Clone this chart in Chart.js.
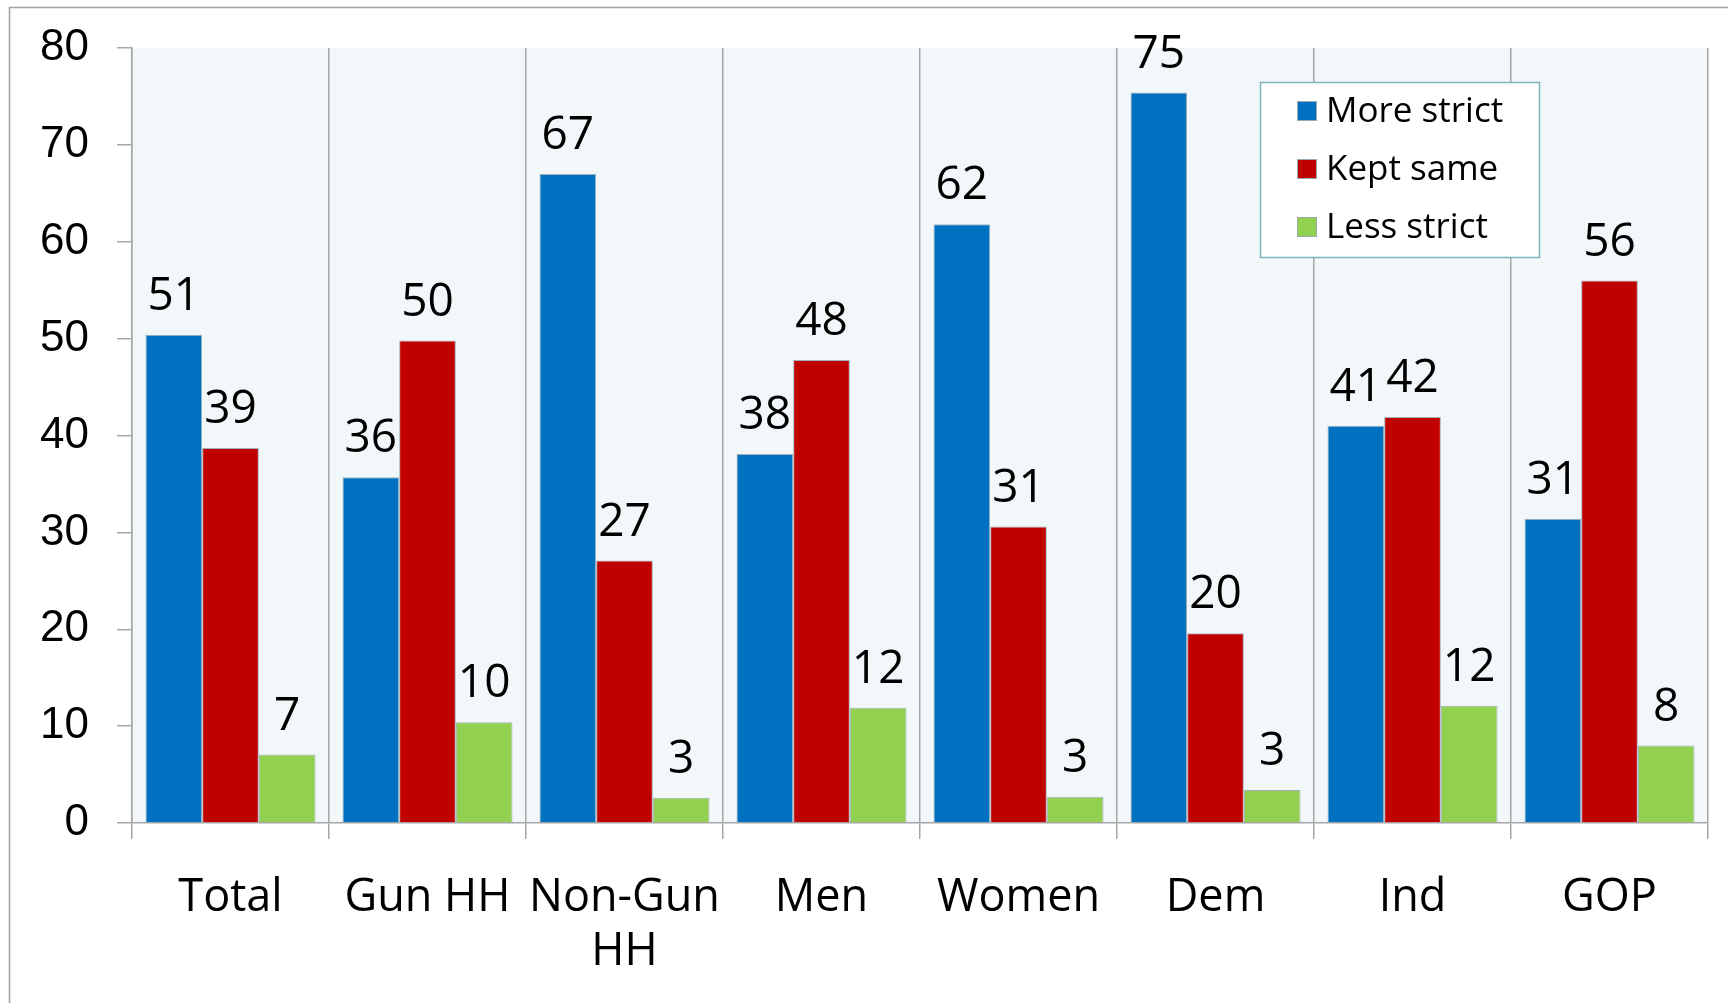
<!DOCTYPE html>
<html>
<head>
<meta charset="utf-8">
<script src="https://cdn.jsdelivr.net/npm/chart.js@4.4.1/dist/chart.umd.min.js"></script>
<style>
  html, body { margin: 0; padding: 0; background: #fff; }
  canvas { display: block; }
</style>
</head>
<body>
<canvas id="chart" width="1728" height="1003"></canvas>
<script>
const categories = ["Total", "Gun HH", ["Non-Gun", "HH"], "Men", "Women", "Dem", "Ind", "GOP"];
const seriesNames = ["More strict", "Kept same", "Less strict"];

// bar heights as drawn, and the rounded numbers printed above them
const moreStrict = [50.4, 35.7, 67.0, 38.1, 61.8, 75.4, 41.0, 31.4];
const keptSame = [38.7, 49.8, 27.1, 47.8, 30.6, 19.6, 41.9, 56.0];
const lessStrict = [7.06, 10.4, 2.6, 11.9, 2.7, 3.4, 12.1, 8.0];
const moreStrictLabels = ["51", "36", "67", "38", "62", "75", "41", "31"];
const keptSameLabels = ["39", "50", "27", "48", "31", "20", "42", "56"];
const lessStrictLabels = ["7", "10", "3", "12", "3", "3", "12", "8"];

const yTicks = [0, 10, 20, 30, 40, 50, 60, 70, 80];

const colors = ["#0070C0", "#C00000", "#92D050"];
const gridGray = "#A6A6A6";
const labelFont = "'Open Sans', 'Noto Sans', sans-serif";

const backdrop = {
  id: "backdrop",
  beforeDraw(chart) {
    const { ctx, chartArea: a } = chart;
    ctx.save();
    ctx.fillStyle = "#F2F7FA";
    ctx.fillRect(a.left, a.top, a.right - a.left, a.bottom - a.top);
    // outer frame, runs off the right and bottom of the picture
    ctx.strokeStyle = "#A0A0A0";
    ctx.lineWidth = 1.5;
    ctx.beginPath();
    ctx.moveTo(9.5, chart.height + 5);
    ctx.lineTo(9.5, 7.5);
    ctx.lineTo(chart.width + 5, 7.5);
    ctx.stroke();
    ctx.restore();
  },
};

const valueLabels = {
  id: "valueLabels",
  afterDatasetsDraw(chart) {
    const { ctx } = chart;
    ctx.save();
    ctx.fillStyle = "#000";
    ctx.font = "46px " + labelFont;
    ctx.textAlign = "center";
    ctx.textBaseline = "middle";
    chart.data.datasets.forEach((ds, di) => {
      chart.getDatasetMeta(di).data.forEach((bar, i) => {
        ctx.fillText(ds.printed[i], bar.x, bar.y - 38);
      });
    });
    ctx.restore();
  },
};

const boxLegend = {
  id: "boxLegend",
  afterDraw(chart) {
    const { ctx } = chart;
    const x = 1260, y = 82, w = 279, h = 175;
    ctx.save();
    ctx.fillStyle = "#fff";
    ctx.fillRect(x, y, w, h);
    ctx.strokeStyle = "#7FB3BA";
    ctx.lineWidth = 1.5;
    ctx.strokeRect(x + 0.5, y + 0.5, w, h);
    ctx.font = "35px " + labelFont;
    ctx.textBaseline = "middle";
    chart.data.datasets.forEach((ds, i) => {
      const cy = 111 + i * 58;
      ctx.fillStyle = ds.backgroundColor;
      ctx.fillRect(1297, cy - 10, 20, 20);
      ctx.strokeStyle = "#9AAAB4";
      ctx.lineWidth = 1;
      ctx.strokeRect(1297.5, cy - 9.5, 19, 19);
      ctx.fillStyle = "#000";
      ctx.fillText(ds.label, 1326, cy + 1);
    });
    ctx.restore();
  },
};

function makeSet(i, values, printed) {
  return {
    label: seriesNames[i],
    data: values,
    printed: printed,
    backgroundColor: colors[i],
    borderColor: "#A3B1BA",
    borderWidth: 1,
    borderSkipped: "bottom",
  };
}

new Chart(document.getElementById("chart"), {
  type: "bar",
  data: {
    labels: categories,
    datasets: [
      makeSet(0, moreStrict, moreStrictLabels),
      makeSet(1, keptSame, keptSameLabels),
      makeSet(2, lessStrict, lessStrictLabels),
    ],
  },
  options: {
    responsive: false,
    animation: false,
    layout: { padding: { top: 48, right: 20, left: 0, bottom: 0 } },
    datasets: { bar: { categoryPercentage: 0.863, barPercentage: 1 } },
    plugins: { legend: { display: false }, tooltip: { enabled: false } },
    scales: {
      x: {
        afterFit: (s) => { s.height = 180; },
        grid: { offset: true, color: gridGray, lineWidth: 1.5, tickLength: 16 },
        border: { color: gridGray, width: 1.5 },
        ticks: {
          color: "#000",
          padding: 32,
          maxRotation: 0,
          autoSkip: false,
          font: { family: labelFont, size: 45, lineHeight: 1.2 },
        },
      },
      y: {
        min: 0,
        max: 80,
        afterFit: (s) => { s.width = 132; s.paddingTop = 0; s.paddingBottom = 0; },
        afterBuildTicks: (s) => { s.ticks = yTicks.map((v) => ({ value: v })); },
        grid: { drawOnChartArea: false, color: gridGray, lineWidth: 1.5, tickLength: 15 },
        border: { color: gridGray, width: 1.5 },
        ticks: {
          color: "#000",
          padding: 28,
          font: { family: "'Liberation Sans', Arial, sans-serif", size: 44 },
        },
      },
    },
  },
  plugins: [backdrop, valueLabels, boxLegend],
});
</script>
</body>
</html>
